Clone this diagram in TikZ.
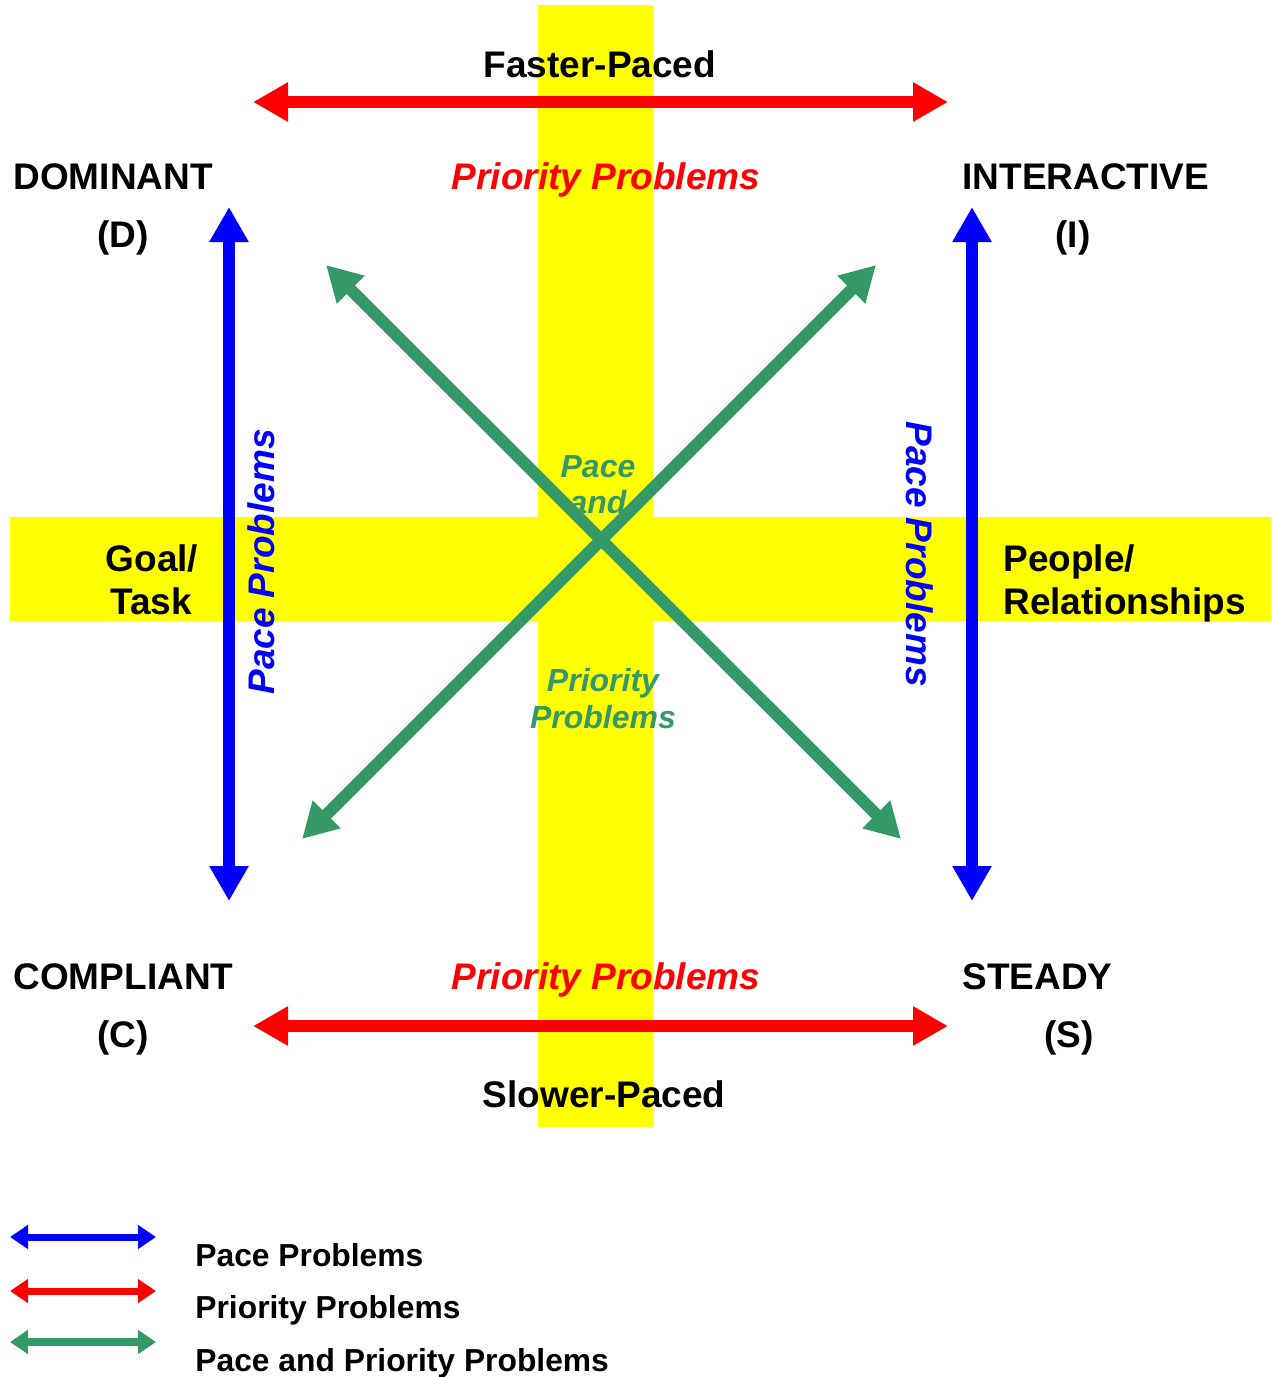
\documentclass[tikz,border=0pt]{standalone}
\usepackage{fontspec}
\setmainfont{Liberation Sans}
\usetikzlibrary{arrows.meta}
\definecolor{dgreen}{RGB}{52,153,102}
\definecolor{yband}{RGB}{255,255,0}
\begin{document}
\begin{tikzpicture}[x=0.5pt,y=-0.5pt,
  big/.style={font=\fontsize{18.5}{22}\selectfont\bfseries, inner sep=0pt},
  bigit/.style={font=\fontsize{18.5}{22}\selectfont\bfseries\itshape, inner sep=0pt},
  smallit/.style={font=\fontsize{16}{19}\selectfont\bfseries\itshape, inner sep=0pt, text=dgreen},
  legtext/.style={font=\fontsize{15.9}{19}\selectfont\bfseries, inner sep=0pt, anchor=base west},
  fatarrow/.style={line width=6pt, {Triangle[length=17.5pt,width=18.5pt]}-{Triangle[length=17.5pt,width=18.5pt]}},
  legarrow/.style={line width=3.5pt, {Triangle[length=9pt,width=11.5pt]}-{Triangle[length=9pt,width=11.5pt]}}]
\useasboundingbox (0,0) rectangle (1271,1377);
% yellow bands
\fill[yband] (538,5) rectangle (653,1127);
\fill[yband] (10,517) rectangle (1271,621);
% centre green labels (under the arrows)
\node[smallit, anchor=base] (pace) at (598,477) {Pace};
\node[smallit, anchor=base] (and) at (598,513) {and};
% arrow end points
\coordinate (rtl) at (253,102); \coordinate (rtr) at (948,102);
\coordinate (rbl) at (253,1026); \coordinate (rbr) at (948,1026);
\coordinate (blt) at (229,207); \coordinate (blb) at (229,901);
\coordinate (brt) at (972,207); \coordinate (brb) at (972,901);
\coordinate (g1a) at (326,265); \coordinate (g1b) at (901,839);
\coordinate (g2a) at (876,265); \coordinate (g2b) at (302,839);
% arrows
\draw[fatarrow, red] (rtl) -- (rtr);
\draw[fatarrow, red] (rbl) -- (rbr);
\draw[fatarrow, blue] (blt) -- (blb);
\draw[fatarrow, blue] (brt) -- (brb);
\draw[fatarrow, dgreen] (g1a) -- (g1b);
\draw[fatarrow, dgreen] (g2a) -- (g2b);
% texts
\node[big, anchor=base] (fast) at (600,77) {Faster-Paced};
\node[big, anchor=base] (slow) at (604,1107) {Slower-Paced};
\node[bigit, anchor=base, text=red] (pptop) at (606,189) {Priority Problems};
\node[bigit, anchor=base, text=red] (ppbot) at (606,989) {Priority Problems};
\node[big, anchor=base west] (dom) at (13,189) {DOMINANT};
\node[big, anchor=base] (d) at (123,247) {(D)};
\node[big, anchor=base west] (inter) at (962,189) {INTERACTIVE};
\node[big, anchor=base] (i) at (1073,247) {(I)};
\node[big, anchor=base west] (comp) at (13,989) {COMPLIANT};
\node[big, anchor=base] (c) at (123,1047) {(C)};
\node[big, anchor=base west] (steady) at (962,989) {STEADY};
\node[big, anchor=base] (s) at (1069,1047) {(S)};
\node[big, anchor=base] (goal) at (152,571) {Goal/};
\node[big, anchor=base] (task) at (151,614) {Task};
\node[big, anchor=base west] (people) at (1003,571) {People/};
\node[big, anchor=base west] (rel) at (1003,614) {Relationships};
\node[bigit, text=blue, rotate=90] (lpace) at (261,562) {Pace Problems};
\node[bigit, text=blue, rotate=-90] (rpace) at (920,554) {Pace Problems};
\node[smallit, anchor=base] (prio) at (603,691) {Priority};
\node[smallit, anchor=base] (probs) at (603,728) {Problems};
% legend
\coordinate (l1a) at (10,1237); \coordinate (l1b) at (156,1237);
\coordinate (l2a) at (10,1291); \coordinate (l2b) at (156,1291);
\coordinate (l3a) at (10,1342); \coordinate (l3b) at (156,1342);
\draw[legarrow, blue] (l1a) -- (l1b);
\draw[legarrow, red] (l2a) -- (l2b);
\draw[legarrow, dgreen, line width=4pt] (l3a) -- (l3b);
\node[legtext] (lt1) at (195,1266) {Pace Problems};
\node[legtext] (lt2) at (195,1318) {Priority Problems};
\node[legtext] (lt3) at (195,1371) {Pace and Priority Problems};
\end{tikzpicture}
\end{document}
